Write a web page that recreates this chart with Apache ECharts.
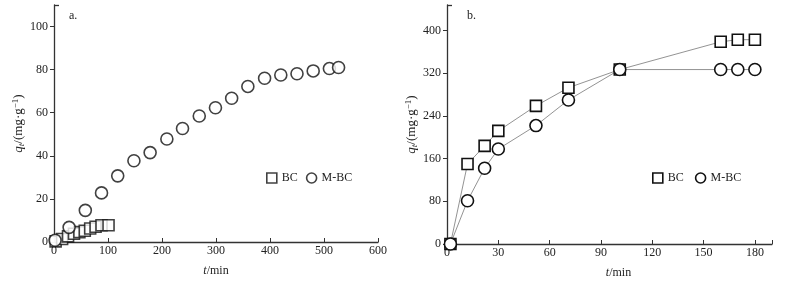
<!DOCTYPE html>
<html>
<head>
<meta charset="utf-8">
<script src="https://cdn.jsdelivr.net/npm/echarts@6/dist/echarts.min.js"></script>
<style>
  html, body { margin: 0; padding: 0; background: #fff; }
  #chart { width: 798px; height: 286px; }
</style>
</head>
<body>
<div id="chart"></div>
<script>
// panel a: scatter, no lines
var aBcTime = [3, 15, 26, 37, 47, 57, 67, 77, 88, 101];
var aBcQ = [0.3, 1.4, 2.6, 3.8, 4.6, 5.2, 6.3, 7.1, 7.8, 7.8];
var aMbcTime = [2, 28, 58, 88, 118, 148, 178, 209, 238, 269, 299, 329, 359, 390, 420, 450, 480, 510, 527];
var aMbcQ = [0.8, 6.8, 14.7, 22.8, 30.7, 37.7, 41.5, 47.8, 52.7, 58.5, 62.3, 66.7, 72.2, 76, 77.5, 78.1, 79.4, 80.5, 81];
// panel b: connected points
var bTime = [2, 12, 22, 30, 52, 71, 101, 160, 170, 180];
var bBcQ = [0, 150, 184, 212, 259, 293, 327, 379, 383, 383];
var bMbcQ = [0, 81, 142, 178, 222, 270, 327, 327, 327, 327];
// ticks
var aXTicks = [0, 100, 200, 300, 400, 500, 600];
var aYTicks = [0, 20, 40, 60, 80, 100];
var bXTicks = [0, 30, 60, 90, 120, 150, 180];
var bYTicks = [0, 80, 160, 240, 320, 400];

var font = "'Liberation Serif', 'Times New Roman', serif";
var ink = '#222';
var axisCol = '#333';

function pairs(xs, ys) {
  return xs.map(function (x, i) { return [x, ys[i]]; });
}

var markStyle = { color: '#fff', borderColor: '#111', borderWidth: 1.6 };

function xAxisOf(grid, max, ticks) {
  return {
    type: 'value', gridIndex: grid, min: 0, max: max,
    name: '{i|t}/min', nameLocation: 'middle', nameGap: 23,
    nameTextStyle: { fontFamily: font, fontSize: 12, color: ink,
      padding: grid === 1 ? [0, 0, 0, 18] : 0,
      rich: { i: { fontFamily: font, fontSize: 12, fontStyle: 'italic', color: ink } } },
    axisLine: { lineStyle: { color: axisCol, width: 1.3 } },
    axisTick: { inside: true, length: 4, lineStyle: { color: axisCol } },
    axisLabel: { customValues: ticks, margin: 3, fontFamily: font, fontSize: 12, color: ink },
    splitLine: { show: false }
  };
}

function yAxisOf(grid, max, ticks) {
  return {
    type: 'value', gridIndex: grid, min: 0, max: max,
    name: '{i|q}{sub|t}/(mg·g{sup|−1})', nameLocation: 'middle', nameGap: 25,
    nameTextStyle: { fontFamily: font, fontSize: 13, color: ink,
      rich: {
        i: { fontFamily: font, fontSize: 13, fontStyle: 'italic', color: ink },
        sub: { fontFamily: font, fontSize: 9, fontStyle: 'italic', color: ink, verticalAlign: 'bottom', padding: [6, 0, 0, 0] },
        sup: { fontFamily: font, fontSize: 9, color: ink, verticalAlign: 'top', padding: [0, 0, 6, 0] }
      } },
    axisLine: { lineStyle: { color: axisCol, width: 1.3 } },
    axisTick: { inside: false, length: 4, customValues: ticks, lineStyle: { color: axisCol } },
    axisLabel: { customValues: ticks, margin: 6, fontFamily: font, fontSize: 12, color: ink },
    splitLine: { show: false }
  };
}

// extra axis only to draw the inward cap at the top of each y axis
function capAxisOf(grid, max) {
  return {
    type: 'value', gridIndex: grid, min: 0, max: max, position: 'left',
    axisLine: { show: false },
    axisTick: { inside: true, length: 5, customValues: [max], lineStyle: { color: axisCol, width: 1.3 } },
    axisLabel: { show: false },
    splitLine: { show: false }
  };
}

var legendText = { fontFamily: font, fontSize: 12, color: ink };

var chart = echarts.init(document.getElementById('chart'), null, { renderer: 'canvas' });
chart.setOption({
  animation: false,
  backgroundColor: '#fff',
  title: [
    { text: 'a.', left: 64, top: 5, textStyle: { fontFamily: font, fontSize: 12, fontWeight: 'normal', color: ink } },
    { text: 'b.', left: 462, top: 5, textStyle: { fontFamily: font, fontSize: 12, fontWeight: 'normal', color: ink } }
  ],
  grid: [
    { left: 54, right: 420, top: 5, bottom: 44 },
    { left: 447, right: 26, top: 5, bottom: 42 }
  ],
  legend: [
    { left: 266, top: 172, padding: 0, itemWidth: 10, itemHeight: 10, itemGap: 8, textStyle: legendText,
      data: [{ name: 'BC', icon: 'rect' }, { name: 'M-BC', icon: 'circle' }],
      itemStyle: markStyle,
      selectedMode: false },
    { left: 652, top: 172, padding: 0, itemWidth: 10, itemHeight: 10, itemGap: 8, textStyle: legendText,
      data: [{ name: 'BC ', icon: 'rect' }, { name: 'M-BC ', icon: 'circle' }],
      itemStyle: markStyle, lineStyle: { width: 0 },
      selectedMode: false }
  ],
  xAxis: [xAxisOf(0, 600, aXTicks), xAxisOf(1, 190, bXTicks)],
  yAxis: [yAxisOf(0, 110, aYTicks), yAxisOf(1, 448, bYTicks), capAxisOf(0, 110), capAxisOf(1, 448)],
  series: [
    { name: 'BC', type: 'scatter', xAxisIndex: 0, yAxisIndex: 0, symbol: 'rect', symbolSize: 11,
      itemStyle: markStyle, data: pairs(aBcTime, aBcQ) },
    { name: 'M-BC', type: 'scatter', xAxisIndex: 0, yAxisIndex: 0, symbol: 'circle', symbolSize: 12,
      itemStyle: markStyle, data: pairs(aMbcTime, aMbcQ) },
    { name: 'BC ', type: 'line', xAxisIndex: 1, yAxisIndex: 1, symbol: 'rect', symbolSize: 11,
      showSymbol: true, showAllSymbol: true, itemStyle: markStyle,
      lineStyle: { color: '#777', width: 0.8 }, data: pairs(bTime, bBcQ) },
    { name: 'M-BC ', type: 'line', xAxisIndex: 1, yAxisIndex: 1, symbol: 'circle', symbolSize: 12,
      showSymbol: true, showAllSymbol: true, itemStyle: markStyle,
      lineStyle: { color: '#777', width: 0.8 }, data: pairs(bTime, bMbcQ) }
  ]
});
</script>
</body>
</html>
